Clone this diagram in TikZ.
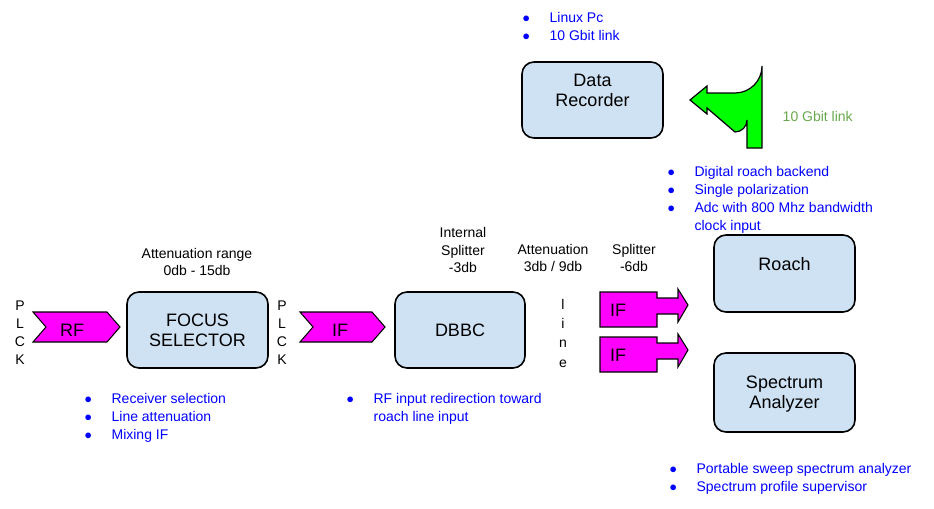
\documentclass[tikz,border=0pt]{standalone}
\usepackage{fontspec}
\setmainfont{Liberation Sans}
\begin{document}
\begin{tikzpicture}[x=0.75pt,y=-0.75pt,
 box/.style={draw=black,line width=1.2pt,fill=blue!15!cyan!8!white,fill={rgb,255:red,207;green,226;blue,243},rounded corners=9pt,align=center,font=\fontsize{13.5}{15}\selectfont},
 lbl/.style={align=center,font=\fontsize{10.5}{13}\selectfont},
 bl/.style={font=\fontsize{10.5}{13.5}\selectfont,text=blue,align=left,anchor=north west},
 mag/.style={fill={rgb,255:red,255;green,0;blue,255},draw=black,line width=0.8pt}]
\useasboundingbox (0,0) rectangle (934,508);
% boxes
\draw[box] (127,292) rectangle (268,368); \node[box,draw=none,fill=none] (fs) at (197.5,330) {FOCUS\\SELECTOR};
\draw[box] (395,292) rectangle (525,368); \node[box,draw=none,fill=none] (dbbc) at (460,330) {DBBC};
\draw[box] (522,62) rectangle (663,138); \node[box,draw=none,fill=none] (dr) at (592.5,90) {Data\\Recorder};
\draw[box] (714,235) rectangle (855,312); \node[box,draw=none,fill=none] (ro) at (784.5,264) {Roach};
\draw[box] (714,353) rectangle (855,432); \node[box,draw=none,fill=none] (sa) at (784.5,394) {Spectrum\\Analyzer};
% chevrons
\draw[mag] (33,312) -- (107,312) -- (120,327) -- (107,342) -- (33,342) -- (46,327) -- cycle;
\node[box,draw=none,fill=none] (rf) at (72,330) {RF};
\draw[mag] (300,312) -- (372,312) -- (385,327) -- (372,342) -- (300,342) -- (313,327) -- cycle;
\node[box,draw=none,fill=none] (if1) at (340,330) {IF};
% IF callouts
\foreach \yy/\nm in {292/ifa,337/ifb}{
\draw[mag] (600,\yy) -- (657,\yy) -- (657,\yy+6) -- (678,\yy+6) -- (678,\yy-3) -- (688,\yy+13) -- (678,\yy+30) -- (678,\yy+22) -- (657,\yy+22) -- (657,\yy+35) -- (600,\yy+35) -- cycle;
\node[box,draw=none,fill=none] (\nm) at (618,\yy+18) {IF};
}
% green arrow
\draw[fill={rgb,255:red,0;green,255;blue,0},draw=black,line width=0.9pt]
 (690,100) -- (707,86) -- (707,93) -- (735,93) arc[start angle=90,end angle=0,radius=27] -- (762,148) -- (747,148) -- (747,120) arc[start angle=0,end angle=90,radius=12] -- (707,108) -- (707,114) -- cycle;
\node[lbl,text={rgb,255:red,106;green,168;blue,79},anchor=west] (gl) at (778,116) {10 Gbit link};
% labels
\node[lbl] (l1) at (197,262) {Attenuation range\\0db - 15db};
\node[lbl] (l2) at (463,250) {Internal\\Splitter\\-3db};
\node[lbl] (l3) at (553,258) {Attenuation\\3db / 9db};
\node[lbl] (l4) at (634,258) {Splitter\\-6db};
\node[lbl,font=\fontsize{10.5}{13.5}\selectfont] (pk1) at (20,333) {P\\L\\C\\K};
\node[lbl,font=\fontsize{10.5}{13.5}\selectfont] (pk2) at (282,333) {P\\L\\C\\K};
\node[lbl,font=\fontsize{10.5}{14.5}\selectfont] (li) at (563,333) {l\\i\\n\\e};
% bullet lists
\node[bl] (b1) at (80,389) {$\bullet$\hspace{1.4em}Receiver selection\\$\bullet$\hspace{1.4em}Line attenuation\\$\bullet$\hspace{1.4em}Mixing IF};
\node[bl] (b2) at (342,389) {$\bullet$\hspace{1.4em}RF input redirection toward\\\phantom{$\bullet$}\hspace{1.4em}roach line input};
\node[bl] (b3) at (518,8) {$\bullet$\hspace{1.4em}Linux Pc\\$\bullet$\hspace{1.4em}10 Gbit link};
\node[bl] (b4) at (663,162) {$\bullet$\hspace{1.4em}Digital roach backend\\$\bullet$\hspace{1.4em}Single polarization\\$\bullet$\hspace{1.4em}Adc with 800 Mhz bandwidth\\\phantom{$\bullet$}\hspace{1.4em}clock input};
\node[bl] (b5) at (665,459) {$\bullet$\hspace{1.4em}Portable sweep spectrum analyzer\\$\bullet$\hspace{1.4em}Spectrum profile supervisor};
\end{tikzpicture}
\end{document}
